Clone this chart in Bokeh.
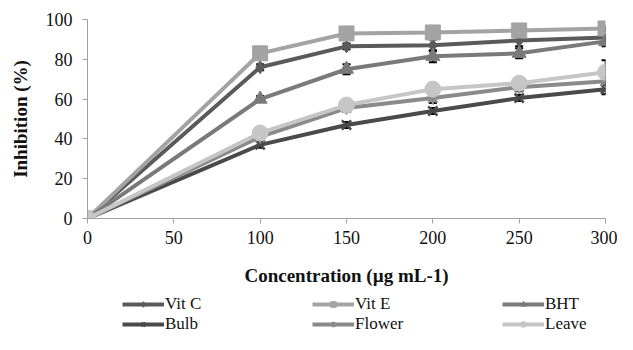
from bokeh.plotting import figure
from bokeh.models import Legend, LegendItem, ColumnDataSource, Whisker, FixedTicker
from bokeh.layouts import column
from bokeh.embed import file_html
from bokeh.resources import INLINE

conc = [0, 100, 150, 200, 250, 300]
vit_c = [0, 76, 86.5, 87, 89.5, 91]
vit_e = [0, 83, 93, 93.5, 94.5, 95.5]
bht = [0, 60, 75, 81.5, 83, 89]
bulb = [0, 37, 47, 54, 60.5, 65]
flower = [0, 41, 55.5, 60.5, 66, 69]
leave = [0, 43, 57, 65, 68, 73.5]

err_vit_c = [0, 1.5, 1.5, 3, 3, 1.5]
err_vit_e = [0, 1, 1, 1, 1, 1]
err_bht = [0, 1.5, 2.5, 3, 2.5, 2.5]
err_bulb = [0, 1.5, 1.5, 1.5, 1.5, 2.5]
err_flower = [0, 1.5, 2, 2.5, 2, 2]
err_leave = [0, 1, 1, 1, 1, 6]

x_ticks = [0, 50, 100, 150, 200, 250, 300]
y_ticks = [0, 20, 40, 60, 80, 100]

names = ["Vit C", "Vit E", "BHT", "Bulb", "Flower", "Leave"]
series = [vit_c, vit_e, bht, bulb, flower, leave]
errs = [err_vit_c, err_vit_e, err_bht, err_bulb, err_flower, err_leave]
colors = ["#5a5a5a", "#a3a3a3", "#7a7a7a", "#4a4a4a", "#8a8a8a", "#c6c6c6"]
markers = ["diamond", "square", "triangle", "x", "asterisk", "circle"]
msizes = [13, 15, 14, 13, 13, 16]

FONT = "Liberation Serif"

p = figure(width=617, height=294, output_backend="svg", toolbar_location=None,
           x_range=(0, 300), y_range=(0, 100),
           min_border_left=87, min_border_right=12, min_border_top=19, min_border_bottom=76)
p.outline_line_color = None
p.xgrid.grid_line_color = None
p.ygrid.grid_line_color = None

p.xaxis.ticker = FixedTicker(ticks=x_ticks)
p.yaxis.ticker = FixedTicker(ticks=y_ticks)
for ax in (p.xaxis[0], p.yaxis[0]):
    ax.axis_line_color = "#a0a0a0"
    ax.major_tick_line_color = "#a0a0a0"
    ax.minor_tick_line_color = None
    ax.major_tick_in = 0
    ax.major_tick_out = 5
    ax.major_label_text_font = FONT
    ax.major_label_text_font_size = "18px"
    ax.major_label_text_color = "#111111"
    ax.axis_label_text_font = FONT
    ax.axis_label_text_font_style = "bold"
    ax.axis_label_text_font_size = "19px"
    ax.axis_label_text_color = "#111111"
p.xaxis.axis_label = "Concentration (µg mL-1)"
p.yaxis.axis_label = "Inhibition (%)"
p.xaxis.major_label_standoff = 7
p.xaxis.axis_label_standoff = 18
p.yaxis.major_label_standoff = 10
p.yaxis.axis_label_standoff = 12

for name, ys, er, c, m, s in zip(names, series, errs, colors, markers, msizes):
    src = ColumnDataSource(dict(x=conc, y=ys,
                                lo=[a - b for a, b in zip(ys, er)],
                                hi=[a + b for a, b in zip(ys, er)]))
    p.line("x", "y", source=src, line_color=c, line_width=4)
    lw = 2.5 if m in ("x", "asterisk") else 1
    p.scatter("x", "y", source=src, marker=m, size=s, fill_color=c,
              line_color=c, line_width=lw)
    w = Whisker(source=src, base="x", upper="hi", lower="lo", line_color="black",
                line_width=1.5)
    for h in (w.upper_head, w.lower_head):
        h.size = 8
        h.line_color = "black"
        h.line_width = 2
    p.add_layout(w)

# legend strip below the chart
lg = figure(width=617, height=40, output_backend="svg", toolbar_location=None,
            x_range=(0, 1), y_range=(0, 1), x_axis_type=None, y_axis_type=None,
            min_border=0)
lg.outline_line_color = None
lg.xgrid.grid_line_color = None
lg.ygrid.grid_line_color = None

nan = float("nan")
proxy = {}
for name, c, m, s in zip(names, colors, markers, msizes):
    blank = ColumnDataSource(dict(x=[nan], y=[nan]))
    r1 = lg.line("x", "y", source=blank, line_color=c, line_width=4)
    lw = 2.5 if m in ("x", "asterisk") else 1
    r2 = lg.scatter("x", "y", source=blank, marker=m, size=s, fill_color=c,
                    line_color=c, line_width=lw)
    proxy[name] = LegendItem(label=name, renderers=[r1, r2])

order = ["Vit C", "Bulb", "Vit E", "Flower", "BHT", "Leave"]
legend = Legend(items=[proxy[n] for n in order], ncols=3,
                label_text_font=FONT, label_text_font_size="17px",
                label_text_color="#111111",
                glyph_width=42, glyph_height=14, label_standoff=1,
                label_width=147, label_height=16, spacing=0,
                padding=0, margin=0, border_line_color=None,
                background_fill_alpha=0, location=(35, 0))
lg.add_layout(legend, "center")

open("out.html", "w").write(file_html(column(p, lg), INLINE))
